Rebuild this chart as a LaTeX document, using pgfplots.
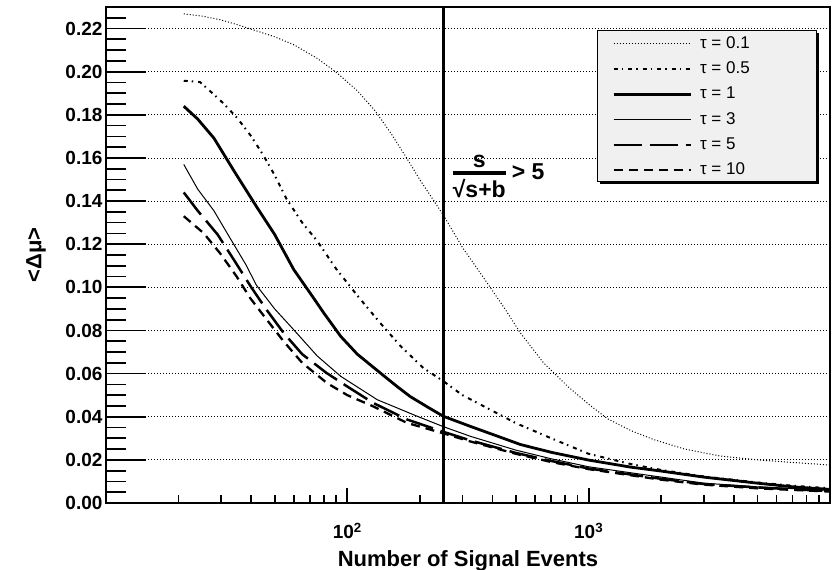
\documentclass[border=0pt]{standalone}
\usepackage{fontspec}
\setmainfont{Liberation Sans}
\usepackage{pgfplots}
\pgfplotsset{compat=1.18}
\begin{document}
\begin{tikzpicture}
\begin{axis}[
  at={(0pt,0pt)}, anchor=south west,
  width=724pt, height=496pt, scale only axis,
  xmode=log, xmin=10, xmax=10000, ymin=0, ymax=0.23,
  xtick=\empty,
  ytick={0,0.02,0.04,0.06,0.08,0.10,0.12,0.14,0.16,0.18,0.20,0.22},
  yticklabels=\empty,
  tick align=inside, tick pos=left,
  major tick length=0pt,
  axis line style={line width=2.3pt},
  ymajorgrids, major grid style={black, line width=0.8pt, dash pattern=on 0.8pt off 2.2pt},
  legend cell align=left,
  legend image code/.code={\draw[#1] (0pt,0pt) -- (77pt,0pt);},
  legend style={at={(rel axis cs:0.6782,0.9536)}, anchor=north west, draw=none, fill=none,
    xshift=15pt, yshift=-6pt, inner sep=0pt, row sep=10.3pt, column sep=8pt,
    font=\fontsize{17}{19}\selectfont,
    nodes={inner xsep=0pt, inner ysep=0pt, text height=12pt, text depth=3pt}},
]
% tau = 0.1
\addplot[black, line width=1pt, dash pattern=on 1pt off 2pt] coordinates {
(21,0.2268)(25,0.2258)(30,0.2240)(35,0.2218)(40,0.2197)(50,0.2162)(60,0.2125)(75,0.2062)(90,0.1997)(110,0.1912)(130,0.1820)(150,0.1722)(175,0.1605)(200,0.1498)(250,0.1335)(300,0.1185)(380,0.1020)(450,0.0900)(520,0.0790)(650,0.0650)(820,0.0540)(1000,0.0458)(1200,0.0390)(1500,0.0335)(1850,0.0295)(2500,0.0250)(3500,0.0218)(5000,0.0200)(7000,0.0188)(10000,0.0176)};
% tau = 0.5
\addplot[black, line width=2pt, dash pattern=on 4pt off 4pt on 1.5pt off 5pt] coordinates {
(21,0.1958)(24.5,0.1952)(27,0.1910)(30.6,0.1854)(35,0.1785)(40,0.1700)(45,0.1610)(50,0.1520)(56,0.1410)(65,0.1300)(75,0.1215)(90,0.1085)(110,0.0962)(137,0.0834)(166,0.0728)(207,0.0625)(250,0.0565)(300,0.0500)(380,0.0440)(500,0.0370)(700,0.0300)(1000,0.0228)(1500,0.0180)(2000,0.0153)(3000,0.0123)(5000,0.0095)(7000,0.0080)(10000,0.0068)};
% tau = 1
\addplot[black, line width=2.8pt] coordinates {
(21,0.1840)(24,0.1780)(28,0.1692)(34,0.1538)(42,0.1375)(50,0.1245)(60,0.1082)(72,0.0955)(80,0.0880)(94,0.0772)(110,0.0690)(137,0.0603)(160,0.0542)(182,0.0494)(215,0.0445)(250,0.0402)(324,0.0355)(400,0.0318)(522,0.0271)(700,0.0235)(1000,0.0199)(1500,0.0166)(2000,0.0148)(3000,0.0120)(5000,0.0092)(7000,0.0075)(10000,0.0063)};
% tau = 3
\addplot[black, line width=1pt] coordinates {
(21,0.1570)(24,0.1455)(28,0.1355)(33,0.1220)(38,0.1105)(42,0.1010)(50,0.0900)(60,0.0803)(75,0.0682)(94,0.0587)(133,0.0479)(195,0.0402)(250,0.0354)(324,0.0309)(500,0.0245)(700,0.0205)(1000,0.0168)(2000,0.0120)(3000,0.0092)(5000,0.0075)(10000,0.0058)};
% tau = 5
\addplot[black, line width=2.5pt, dash pattern=on 28pt off 8pt] coordinates {
(21,0.1440)(24,0.1355)(29,0.1245)(34,0.1125)(40,0.1000)(46,0.0900)(54.5,0.0788)(65,0.0690)(82,0.0603)(100,0.0540)(128,0.0464)(177,0.0387)(250,0.0330)(324,0.0290)(500,0.0232)(700,0.0195)(1000,0.0160)(2000,0.0112)(3000,0.0088)(5000,0.0072)(10000,0.0055)};
% tau = 10
\addplot[black, line width=2.3pt, dash pattern=on 9pt off 6pt] coordinates {
(21,0.1330)(25.4,0.1251)(29.7,0.1158)(34.8,0.1050)(39.6,0.0950)(46,0.0855)(54.5,0.0749)(65,0.0650)(82.4,0.0556)(100,0.0500)(128,0.0448)(177,0.0371)(250,0.0323)(324,0.0285)(500,0.0228)(700,0.0190)(1000,0.0157)(2000,0.0108)(3000,0.0085)(5000,0.0068)(10000,0.0053)};
% significance line
\addplot[black, line width=2.5pt, forget plot] coordinates {(250,0) (250,0.23)};
% legend box
\fill[black] (rel axis cs:0.6823,0.9476) rectangle (rel axis cs:0.9848,0.6432);
\filldraw[fill=black!6, draw=black, line width=0.8pt] (rel axis cs:0.6782,0.9536) rectangle (rel axis cs:0.9807,0.6492);
\node[anchor=west, inner sep=0pt, font=\bfseries\fontsize{23}{25}\selectfont] at (axis cs:270,0.1515)
  {${\hbox{s}\above 4pt\hbox{√s+b}}$\kern5pt> 5};
\legend{τ = 0.1, τ = 0.5, τ = 1, τ = 3, τ = 5, τ = 10}
\end{axis}
% overlay axis for the y ticks
\begin{axis}[
  at={(0pt,0pt)}, anchor=south west,
  width=724pt, height=496pt, scale only axis,
  xmin=0, xmax=1, ymin=0, ymax=0.23,
  hide x axis, axis y line*=left,
  ytick={0,0.02,0.04,0.06,0.08,0.10,0.12,0.14,0.16,0.18,0.20,0.22},
  minor ytick={0.005,0.01,0.015,0.025,0.03,0.035,0.045,0.05,0.055,0.065,0.07,0.075,0.085,0.09,0.095,0.105,0.11,0.115,0.125,0.13,0.135,0.145,0.15,0.155,0.165,0.17,0.175,0.185,0.19,0.195,0.205,0.21,0.215,0.225},
  tick align=inside,
  major tick length=40pt, minor tick length=20pt,
  tick style={line width=1.7pt, black},
  axis line style={line width=2.3pt, -},
  yticklabel style={/pgf/number format/.cd, fixed, fixed zerofill, precision=2, assume math mode=true},
  tick label style={font=\bfseries\fontsize{19}{21}\selectfont},
  ylabel={<Δμ>},
  every axis y label/.style={at={(axis description cs:-0.0967,0.5)}, rotate=90, anchor=center, font=\bfseries\fontsize{22}{24}\selectfont},
]
\end{axis}
% overlay axis for the x ticks
\begin{axis}[
  at={(0pt,0pt)}, anchor=south west,
  width=724pt, height=496pt, scale only axis,
  xmode=log, xmin=10, xmax=10000, ymin=0, ymax=0.23,
  hide y axis, axis x line*=bottom,
  xtick={100,1000}, xticklabels={10\textsuperscript{2},10\textsuperscript{3}},
  minor xtick={20,30,40,50,60,70,80,90,200,300,400,500,600,700,800,900,2000,3000,4000,5000,6000,7000,8000,9000},
  tick align=inside,
  major tick length=15pt, minor tick length=7.5pt,
  tick style={line width=1.7pt, black},
  axis line style={line width=2.3pt, -},
  tick label style={font=\bfseries\fontsize{19}{21}\selectfont},
  xticklabel style={anchor=base, yshift=-36pt},
  xlabel={Number of Signal Events},
  every axis x label/.style={at={(axis description cs:0.5,-0.129)}, anchor=base, font=\bfseries\fontsize{22}{24}\selectfont},
]
\end{axis}
\pgfresetboundingbox
\path[use as bounding box] (-106pt,-67pt) rectangle (730pt,503pt);
\end{tikzpicture}
\end{document}
